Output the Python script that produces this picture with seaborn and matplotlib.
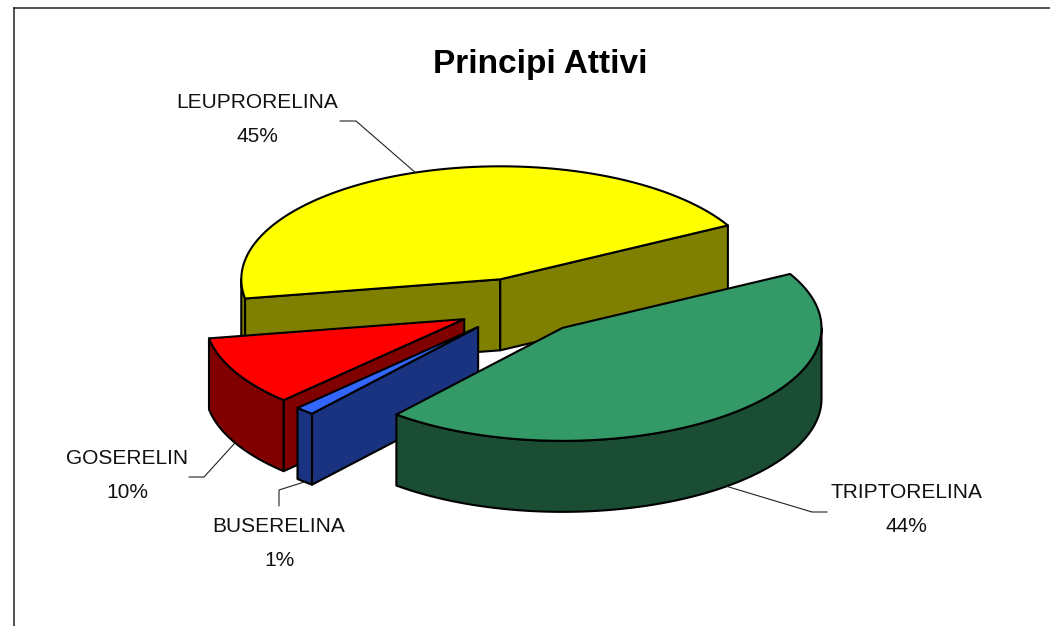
import numpy as np
import pandas as pd
import matplotlib
matplotlib.use("Agg")
import matplotlib.pyplot as plt
import seaborn as sns

# values, clockwise from the start angle
categories = ["TRIPTORELINA", "BUSERELINA", "GOSERELIN", "LEUPRORELINA"]
values = [44.0, 1.2, 10.0, 44.8]
top_colors = ["#339966", "#3366FF", "#FF0000", "#FFFF00"]
chart_title = "Principi Attivi"

# layout of the labels, in pixels
label_x = [906, 279, 127.5, 257]
label_y = [493, 526, 458, 102]
elbow_a = [(827, 512), (279, 506), (189, 477), (340, 121)]
elbow_b = [(812, 512), (279, 490), (204, 477), (356, 121)]

CX, CY = 521.5, 306
RX, RY = 259, 113
DEPTH = 71
EXPLODE = 0.25
START = 28.5
LW = 1.5

sns.set_theme(style="white", font="Liberation Sans")
palette = sns.color_palette(top_colors)
side_colors = [tuple(c * 0.5 for c in col) for col in palette]

df = pd.DataFrame({"name": categories, "value": values})
df["sweep"] = df["value"] / df["value"].sum() * 360
df["t1"] = START - df["sweep"].cumsum().shift(fill_value=0)
df["t2"] = df["t1"] - df["sweep"]
df["mid"] = (df["t1"] + df["t2"]) / 2


def rim_points(x0, y0, t_from, t_to):
    t = np.radians(np.linspace(t_from, t_to, 80))
    return np.column_stack([x0 + RX * np.cos(t), y0 - RY * np.sin(t)])


def draw_wedge(ax, row, top, side):
    m = np.radians(row.mid)
    x0 = CX + EXPLODE * RX * np.cos(m)
    y0 = CY - EXPLODE * RY * np.sin(m)
    style = dict(edgecolor="black", lw=LW, joinstyle="round")

    # side walls along the radii, only those facing the viewer
    for t, visible in [(row.t1, np.cos(np.radians(row.t1)) < 0),
                       (row.t2, np.cos(np.radians(row.t2)) > 0)]:
        if visible:
            px = x0 + RX * np.cos(np.radians(t))
            py = y0 - RY * np.sin(np.radians(t))
            ax.fill([x0, px, px, x0], [y0, py, py + DEPTH, y0 + DEPTH], facecolor=side, **style)

    # outer rim, front half of the ellipse only
    lo, hi = max(row.t2, -180), min(row.t1, 0)
    if lo < hi:
        upper = rim_points(x0, y0, hi, lo)
        lower = upper[::-1] + [0, DEPTH]
        poly = np.vstack([upper, lower])
        ax.fill(poly[:, 0], poly[:, 1], facecolor=side, **style)

    # top face
    poly = np.vstack([[[x0, y0]], rim_points(x0, y0, row.t1, row.t2)])
    ax.fill(poly[:, 0], poly[:, 1], facecolor=top, **style)

    # point on the rim where the leader line ends
    rim_y = y0 - RY * np.sin(m)
    if np.sin(m) < 0:
        rim_y += DEPTH
    return x0 + RX * np.cos(m), rim_y


fig = plt.figure(figsize=(10.5, 6.26), dpi=100)
ax = fig.add_axes([14 / 1050, 0, 1036 / 1050, 618 / 626])
ax.set_xlim(14, 1050)
ax.set_ylim(626, 8)
ax.set_xticks([])
ax.set_yticks([])
sns.despine(ax=ax, top=False, left=False, right=True, bottom=True)
for side_name in ["top", "left"]:
    ax.spines[side_name].set_color("#222222")
    ax.spines[side_name].set_linewidth(1.1)

# painter order: back wedge first, the front one last
for i in [3, 2, 1, 0]:
    row = df.iloc[i]
    end = draw_wedge(ax, row, palette[i], side_colors[i])
    ax.plot([elbow_a[i][0], elbow_b[i][0], end[0]],
            [elbow_a[i][1], elbow_b[i][1], end[1]],
            color="#222222", lw=0.8, zorder=1.5, solid_joinstyle="miter")
    ax.text(label_x[i], label_y[i], row["name"], ha="center", va="center",
            fontsize=15, color="#111111")
    ax.text(label_x[i], label_y[i] + 34, f"{row['value']:.0f}%", ha="center", va="center",
            fontsize=15, color="#111111")

ax.text(540, 64, chart_title, ha="center", va="center", fontsize=24,
        fontweight="bold", color="black")

fig.savefig("out.png", dpi=100)
